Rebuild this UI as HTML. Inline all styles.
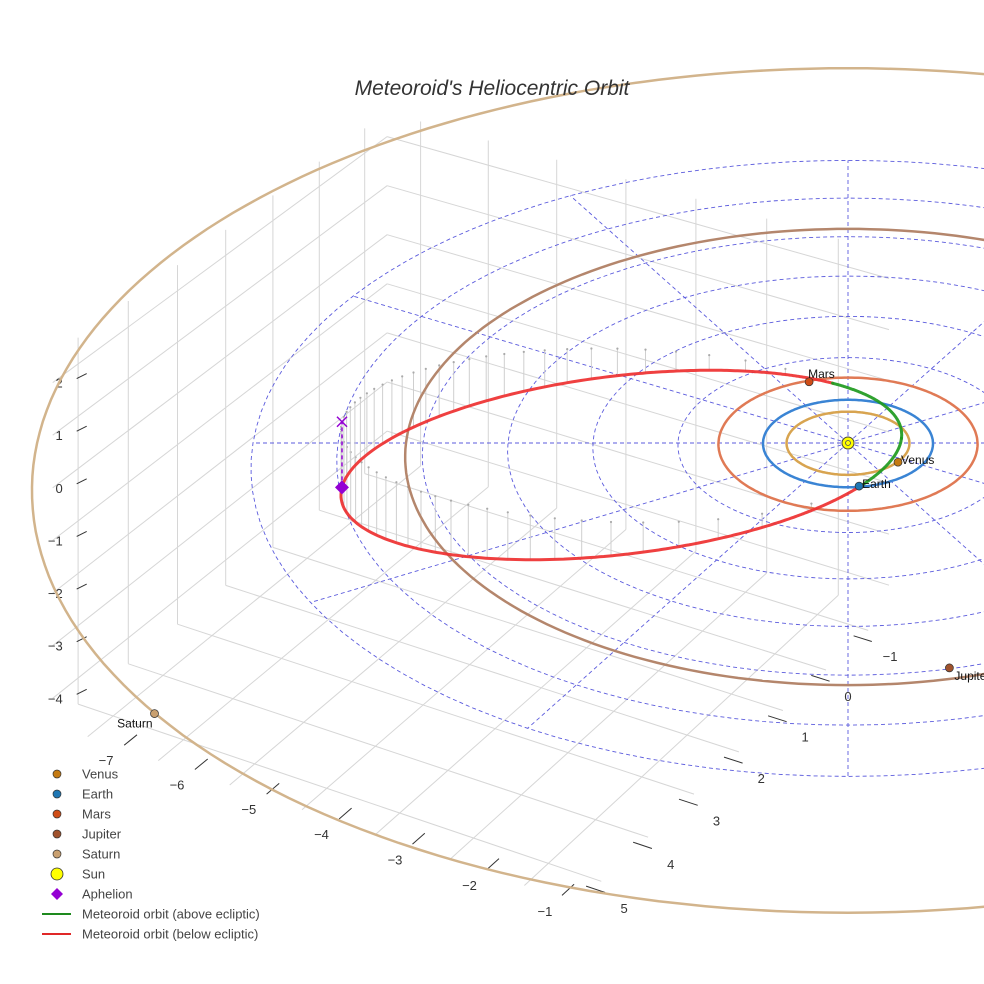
<!DOCTYPE html>
<html><head><meta charset="utf-8"><style>
html,body{margin:0;padding:0;background:#fff}
svg{display:block;font-family:"Liberation Sans",Arial,sans-serif}
</style></head><body>
<svg id="chart" width="984" height="984" viewBox="0 0 984 984">
<g id="walls"></g>
<g id="ecl"></g>
<g id="stems"></g>
<g id="orbits"></g>
<g id="met"></g>
<g id="marks"></g>
<g id="legend"></g>
<text x="492" y="95" text-anchor="middle" font-size="21" font-style="italic" fill="#333">Meteoroid's Heliocentric Orbit</text>
</svg>
<script>
// ---- data ----
const planetNames = ["Venus","Earth","Mars","Jupiter","Saturn"];
const planetX = [0.725, 0.60, -1.115, 3.4, -3.7];
const planetY = [0.085, 0.78, -1.0, 3.64, 8.8];
const orbitRadii = [0.723, 1.0, 1.524, 5.2, 9.54];
const aphelion = [-5.43, 2.57, -1.27];
const nodeDir = [0.61, 0.79, 0];
const eccentricity = [0.81];
const xTicks = [-7,-6,-5,-4,-3,-2,-1];
const yTicks = [-1,0,1,2,3,4,5];
const zTicks = [-4,-3,-2,-1,0,1,2];
const eclRings = [1,2,3,4,5,6,7];
const eclSpokes = [0,30,60,90,120,150,180,210,240,270,300,330];
// ---- style ----
const planetColors = ["#c47a12","#1f77b4","#cf4d17","#a0522d","#c9a070"];
const orbitColors = ["#d8a450","#3a84d4","#e07a55","#b4866c","#d2b48c"];
const labelDx = [3,3,-1,5,-2];
const labelDy = [2,2,-4,12,14];
const labelAnchor = ["start","start","start","start","end"];
const X0=[-7.5,-0.3], Y0=[-1.5,5.5], Z0=[-4.5,2.5];
const NS="http://www.w3.org/2000/svg";
const C=-0.01178, cs=Math.cos(Math.PI/6), sn=Math.sin(Math.PI/6);
function P(x,y,z){const u=cs*x-sn*y, v=sn*x+cs*y, w=1+C*v;return [848+85*u/w, 443+(43.7*v-52*z)/w];}
function el(tag,attrs,parent){const e=document.createElementNS(NS,tag);for(const k in attrs)e.setAttribute(k,attrs[k]);parent.appendChild(e);return e;}
function line(a,b,attrs,parent){return el('line',Object.assign({x1:a[0].toFixed(1),y1:a[1].toFixed(1),x2:b[0].toFixed(1),y2:b[1].toFixed(1)},attrs),parent);}
function pathD(pts){return pts.map((p,i)=>(i?'L':'M')+p[0].toFixed(1)+' '+p[1].toFixed(1)).join('');}
const g=id=>document.getElementById(id);
// walls
const W=g('walls');const gs={stroke:'#d6d6d6','stroke-width':1};
const xg=[-7,-6,-5,-4,-3,-2,-1], yg=[-1,0,1,2,3,4,5], zg=[-4,-3,-2,-1,0,1,2];
xg.forEach(x=>{let l=line(P(x,Y0[0],Z0[0]),P(x,Y0[1],Z0[0]),gs,W);
 l=line(P(x,Y0[0],Z0[0]),P(x,Y0[0],Z0[1]),gs,W);});
yg.forEach(y=>{let l=line(P(X0[0],y,Z0[0]),P(X0[1],y,Z0[0]),gs,W);
 l=line(P(X0[0],y,Z0[0]),P(X0[0],y,Z0[1]),gs,W);});
zg.forEach(z=>{let l=line(P(X0[0],Y0[0],z),P(X0[1],Y0[0],z),gs,W);
 l=line(P(X0[0],Y0[0],z),P(X0[0],Y0[1],z),gs,W);});
// ticks & labels
const ts={stroke:'#333','stroke-width':1};
xTicks.forEach(x=>{const a=P(x,Y0[1]+0.15,Z0[0]),b=P(x,Y0[1]+0.4,Z0[0]);line([a[0]+57,a[1]-8],[b[0]+57,b[1]-8],ts,W);const q=P(x,Y0[1]+0.75,Z0[0]);
 const t=el('text',{x:(q[0]+57).toFixed(1),y:(q[1]-3).toFixed(1),'text-anchor':'middle','font-size':13,fill:'#333'},W);t.textContent=String(x).replace('-','\u2212');
 });
yTicks.forEach(y=>{const a=P(X0[1]-0.2,y,Z0[0]),b=P(X0[1]+0.05,y,Z0[0]);line([a[0],a[1]+10],[b[0],b[1]+10],ts,W);const q=P(X0[1]+0.3,y,Z0[0]);
 const t=el('text',{x:q[0].toFixed(1),y:(q[1]+24).toFixed(1),'text-anchor':'middle','font-size':13,fill:'#333'},W);t.textContent=String(y).replace('-','\u2212');
 });
zTicks.forEach(z=>{const a=P(X0[0],Y0[1],z);line([a[0]+24,a[1]-4],[a[0]+34,a[1]-9],ts,W);
 const t=el('text',{x:(a[0]+10).toFixed(1),y:(a[1]+5).toFixed(1),'text-anchor':'end','font-size':13,fill:'#333'},W);t.textContent=String(z).replace('-','\u2212');
 });
// ecliptic grid
const E=g('ecl');const ds={fill:'none',stroke:'#5b5bdd','stroke-width':0.9,'stroke-dasharray':'4,3'};
eclRings.forEach(r=>{const pts=[];for(let a=0;a<=360;a+=3){const t=a*Math.PI/180;pts.push(P(r*Math.cos(t),r*Math.sin(t),0));}
 const p=el('path',Object.assign({d:pathD(pts)},ds),E);});
const rmax=eclRings[eclRings.length-1];
eclSpokes.forEach(a=>{const t=a*Math.PI/180;const l=line(P(0,0,0),P(rmax*Math.cos(t),rmax*Math.sin(t),0),ds,E);
 });
// meteoroid orbit geometry
const e=eccentricity[0];
const Ar=Math.hypot(...aphelion);const Pv=aphelion.map(c=>-c/Ar);
const nd=nodeDir.reduce((s,c,i)=>s+c*Pv[i],0);let Qv=nodeDir.map((c,i)=>c-nd*Pv[i]);const qn=Math.hypot(...Qv);Qv=Qv.map(c=>c/qn);
const semi=Ar/(1+e), pp=semi*(1-e*e);
function orb(nu){const r=pp/(1+e*Math.cos(nu));return [0,1,2].map(i=>r*(Math.cos(nu)*Pv[i]+Math.sin(nu)*Qv[i]));}
// stems (equal time steps)
const S=g('stems');
for(let k=0;k<60;k++){const M=k*2*Math.PI/60;let E1=M;for(let j=0;j<30;j++)E1=E1-(E1-e*Math.sin(E1)-M)/(1-e*Math.cos(E1));
 const nu=2*Math.atan2(Math.sqrt(1+e)*Math.sin(E1/2),Math.sqrt(1-e)*Math.cos(E1/2));const p=orb(nu);if(p[2]>-0.08)continue;
 const a=P(p[0],p[1],p[2]),b=P(p[0],p[1],0);const l=line(a,b,{stroke:'#cfcfcf','stroke-width':1},S);
 const d=el('circle',{cx:b[0].toFixed(1),cy:b[1].toFixed(1),r:1.1,fill:'#aaa'},S);}
// planet orbits
const O=g('orbits');
orbitRadii.forEach((r,i)=>{const pts=[];for(let a=0;a<=360;a+=1.5){const t=a*Math.PI/180;pts.push(P(r*Math.cos(t),r*Math.sin(t),0));}
 const p=el('path',{d:pathD(pts),fill:'none',stroke:orbitColors[i],'stroke-width':2.5},O);});
// meteoroid
const Mg=g('met');let seg=[],sign=null;
function flush(){if(seg.length>1){const p=el('path',{d:pathD(seg),fill:'none',stroke:sign?'#1e9a1e':'#ee3030','stroke-width':3,'stroke-linecap':'round',opacity:0.92},Mg);
 }}
for(let a=0;a<=360;a+=0.5){const p=orb(a*Math.PI/180);const s=p[2]>=0;const q=P(p[0],p[1],p[2]);
 if(sign!==null&&s!==sign){seg.push(q);flush();seg=[q];}else seg.push(q);sign=s;}
flush();
// markers
const K=g('marks');
const ap=P(...aphelion),ap0=P(aphelion[0],aphelion[1],0);
let l=line(ap,ap0,{stroke:'#9400d3','stroke-width':1.5,'stroke-dasharray':'4,3'},K);
let xm=el('path',{d:`M${ap0[0]-5} ${ap0[1]-5}L${ap0[0]+5} ${ap0[1]+5}M${ap0[0]-5} ${ap0[1]+5}L${ap0[0]+5} ${ap0[1]-5}`,stroke:'#9400d3','stroke-width':1.5},K);

let dm=el('path',{d:`M${ap[0]} ${ap[1]-7}L${ap[0]+7} ${ap[1]}L${ap[0]} ${ap[1]+7}L${ap[0]-7} ${ap[1]}Z`,fill:'#9400d3'},K);

const sp=P(0,0,0);
let sc=el('circle',{cx:sp[0],cy:sp[1],r:6,fill:'#ffff00',stroke:'#444','stroke-width':1},K);
el('circle',{cx:sp[0],cy:sp[1],r:2.5,fill:'none',stroke:'#446','stroke-width':0.8},K);
planetNames.forEach((n,i)=>{const q=P(planetX[i],planetY[i],0);
 const c=el('circle',{cx:q[0].toFixed(1),cy:q[1].toFixed(1),r:4,fill:planetColors[i],stroke:'#333','stroke-width':0.7},K);
 
 const t=el('text',{x:(q[0]+labelDx[i]).toFixed(1),y:(q[1]+labelDy[i]).toFixed(1),'text-anchor':labelAnchor[i],'font-size':12,fill:'#111'},K);t.textContent=n;
 });
// legend
const L=g('legend');
const legendItems=[["Venus","dot",planetColors[0]],["Earth","dot",planetColors[1]],["Mars","dot",planetColors[2]],["Jupiter","dot",planetColors[3]],["Saturn","dot",planetColors[4]],["Sun","sun","#ffff00"],["Aphelion","dia","#9400d3"],["Meteoroid orbit (above ecliptic)","line","#1e8a1e"],["Meteoroid orbit (below ecliptic)","line","#e02828"]];
legendItems.forEach((it,i)=>{const y=774+i*20;const gi=el('g',{},L);
 if(it[1]==='dot')el('circle',{cx:57,cy:y,r:4,fill:it[2],stroke:'#333','stroke-width':0.7},gi);
 else if(it[1]==='sun')el('circle',{cx:57,cy:y,r:6,fill:it[2],stroke:'#333','stroke-width':0.8},gi);
 else if(it[1]==='dia')el('path',{d:`M57 ${y-6}L63 ${y}L57 ${y+6}L51 ${y}Z`,fill:it[2]},gi);
 else el('line',{x1:42,y1:y,x2:71,y2:y,stroke:it[2],'stroke-width':2},gi);
 const t=el('text',{x:82,y:y+4.5,'font-size':13,fill:'#444'},gi);t.textContent=it[0];});
</script>
</body></html>
